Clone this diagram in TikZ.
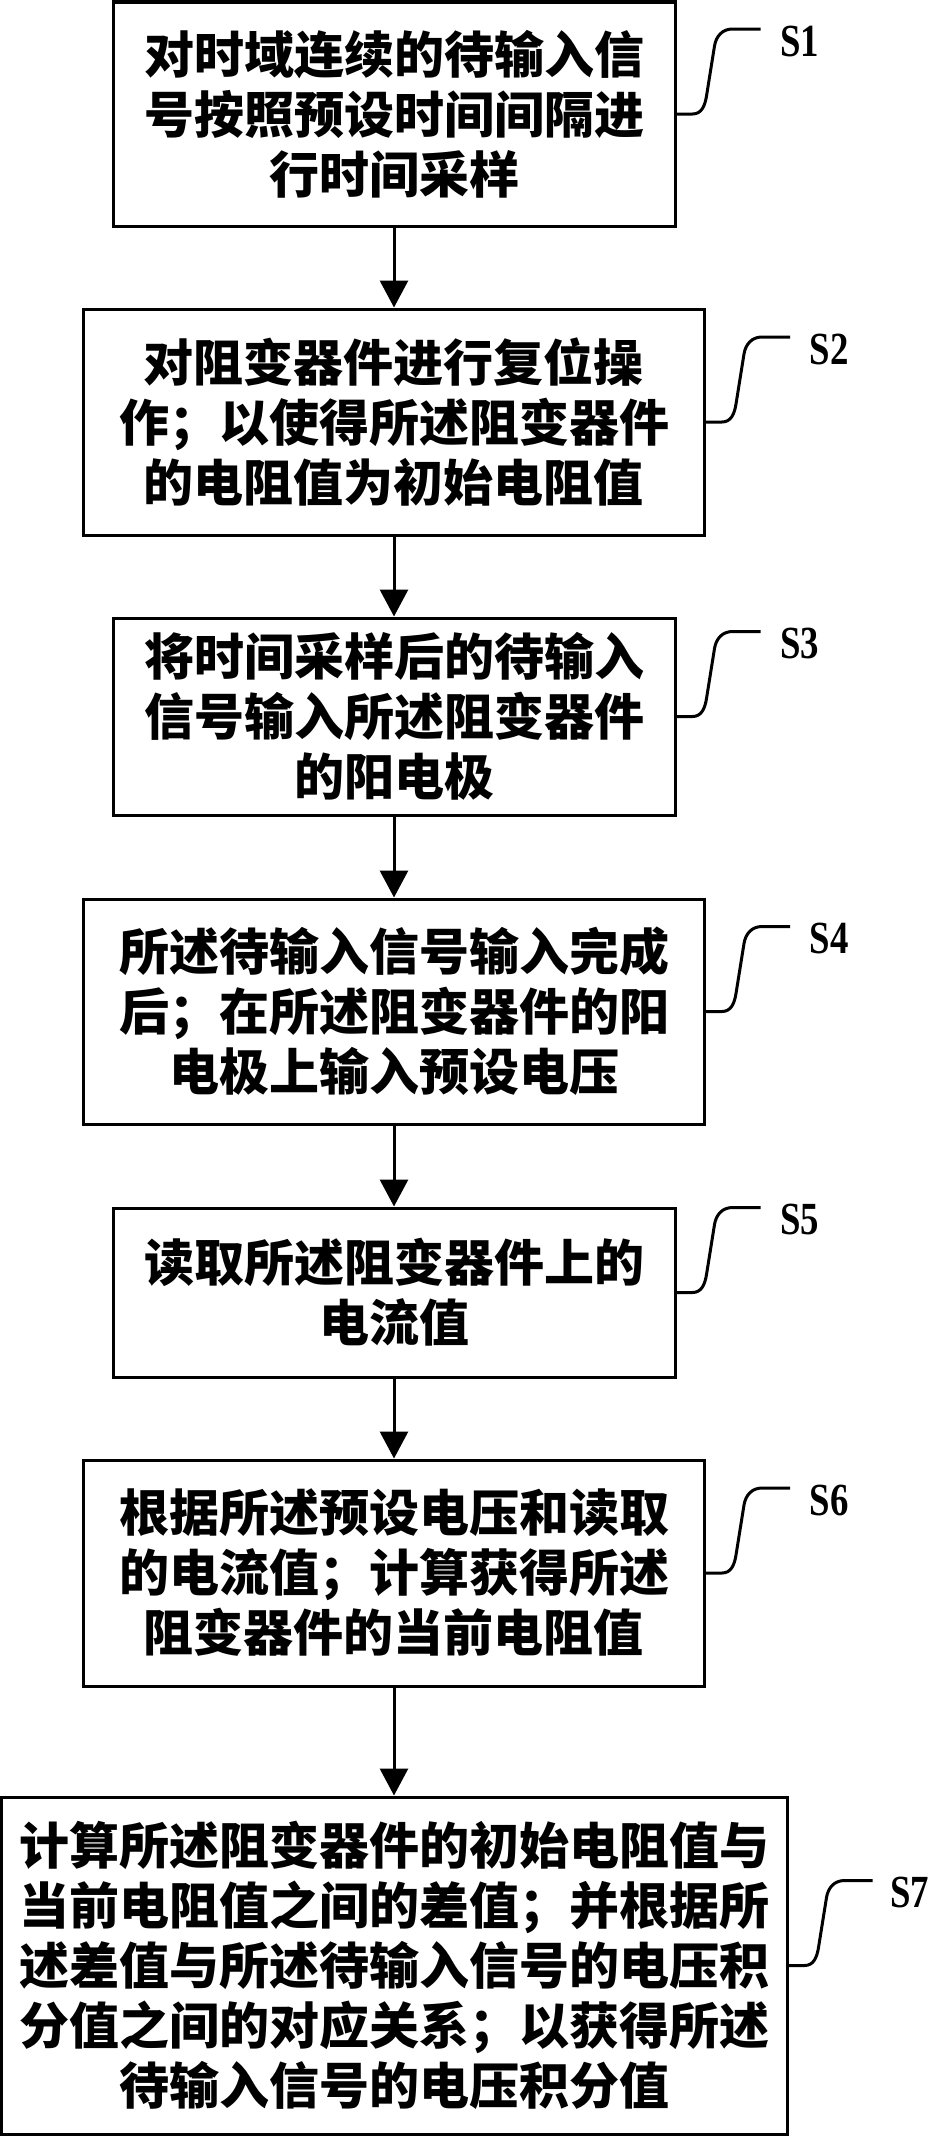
\documentclass[tikz,border=0pt]{standalone}
\usepackage{fontspec}
\setmainfont{Liberation Serif}
\newfontfamily\cjk{Noto Sans CJK SC}
\usetikzlibrary{arrows.meta,calc}

\tikzset{
  stepbox/.style={draw, line width=1.5pt, align=center, inner sep=0pt,
    font=\cjk\bfseries\fontsize{25}{30}\selectfont},
  steplabel/.style={font=\bfseries\fontsize{23}{23}\selectfont, inner sep=0pt},
  flow/.style={line width=1.5pt, -{Triangle[width=14pt,length=13.5pt]}},
  bracket/.style={line width=1.5pt}
}

\begin{document}
\begin{tikzpicture}[x=0.5pt,y=-0.5pt]
\useasboundingbox (0,0) rectangle (930,2136);

% steps
\node[stepbox, minimum width=281pt, minimum height=112pt] (s1) at (394,114)
  {对时域连续的待输入信\\号按照预设时间间隔进\\行时间采样};
\node[stepbox, minimum width=310.5pt, minimum height=113pt] (s2) at (394,422)
  {对阻变器件进行复位操\\作；以使得所述阻变器件\\的电阻值为初始电阻值};
\node[stepbox, minimum width=281pt, minimum height=98.5pt] (s3) at (394,716.5)
  {将时间采样后的待输入\\信号输入所述阻变器件\\的阳电极};
\node[stepbox, minimum width=310.5pt, minimum height=112.5pt] (s4) at (394,1011.5)
  {所述待输入信号输入完成\\后；在所述阻变器件的阳\\电极上输入预设电压};
\node[stepbox, minimum width=281pt, minimum height=84.5pt] (s5) at (394,1292.5)
  {读取所述阻变器件上的\\电流值};
\node[stepbox, minimum width=310.5pt, minimum height=113pt] (s6) at (394,1573)
  {根据所述预设电压和读取\\的电流值；计算获得所述\\阻变器件的当前电阻值};
\node[stepbox, minimum width=393pt, minimum height=168.5pt] (s7) at (394,1965.5)
  {计算所述阻变器件的初始电阻值与\\当前电阻值之间的差值；并根据所\\述差值与所述待输入信号的电压积\\分值之间的对应关系；以获得所述\\待输入信号的电压积分值};

% arrows
\draw[flow] (s1) -- (s2);
\draw[flow] (s2) -- (s3);
\draw[flow] (s3) -- (s4);
\draw[flow] (s4) -- (s5);
\draw[flow] (s5) -- (s6);
\draw[flow] (s6) -- (s7);

% step labels
\node[steplabel] (l1) at ($(s1.east)+(123,-73)$) {\scalebox{0.8}[1]{S1}};
\node[steplabel] (l2) at ($(s2.east)+(123,-73)$) {\scalebox{0.8}[1]{S2}};
\node[steplabel] (l3) at ($(s3.east)+(123,-73)$) {\scalebox{0.8}[1]{S3}};
\node[steplabel] (l4) at ($(s4.east)+(123,-73)$) {\scalebox{0.8}[1]{S4}};
\node[steplabel] (l5) at ($(s5.east)+(123,-73)$) {\scalebox{0.8}[1]{S5}};
\node[steplabel] (l6) at ($(s6.east)+(123,-73)$) {\scalebox{0.8}[1]{S6}};
\node[steplabel] (l7) at ($(s7.east)+(121,-73)$) {\scalebox{0.8}[1]{S7}};

\draw[bracket] (s1.east) -- ++(16,0) .. controls +(9,0) and +(-1.6,10) .. ++(14,-18)
  -- ++(8,-50) .. controls +(1.6,-10) and +(-10,0) .. ++(18,-17) -- ++(28,0);
\draw[bracket] (s2.east) -- ++(16,0) .. controls +(9,0) and +(-1.6,10) .. ++(14,-18)
  -- ++(8,-50) .. controls +(1.6,-10) and +(-10,0) .. ++(18,-17) -- ++(28,0);
\draw[bracket] (s3.east) -- ++(16,0) .. controls +(9,0) and +(-1.6,10) .. ++(14,-18)
  -- ++(8,-50) .. controls +(1.6,-10) and +(-10,0) .. ++(18,-17) -- ++(28,0);
\draw[bracket] (s4.east) -- ++(16,0) .. controls +(9,0) and +(-1.6,10) .. ++(14,-18)
  -- ++(8,-50) .. controls +(1.6,-10) and +(-10,0) .. ++(18,-17) -- ++(28,0);
\draw[bracket] (s5.east) -- ++(16,0) .. controls +(9,0) and +(-1.6,10) .. ++(14,-18)
  -- ++(8,-50) .. controls +(1.6,-10) and +(-10,0) .. ++(18,-17) -- ++(28,0);
\draw[bracket] (s6.east) -- ++(16,0) .. controls +(9,0) and +(-1.6,10) .. ++(14,-18)
  -- ++(8,-50) .. controls +(1.6,-10) and +(-10,0) .. ++(18,-17) -- ++(28,0);
\draw[bracket] (s7.east) -- ++(16,0) .. controls +(9,0) and +(-1.6,10) .. ++(14,-18)
  -- ++(8,-50) .. controls +(1.6,-10) and +(-10,0) .. ++(18,-17) -- ++(28,0);
\end{tikzpicture}
\end{document}
